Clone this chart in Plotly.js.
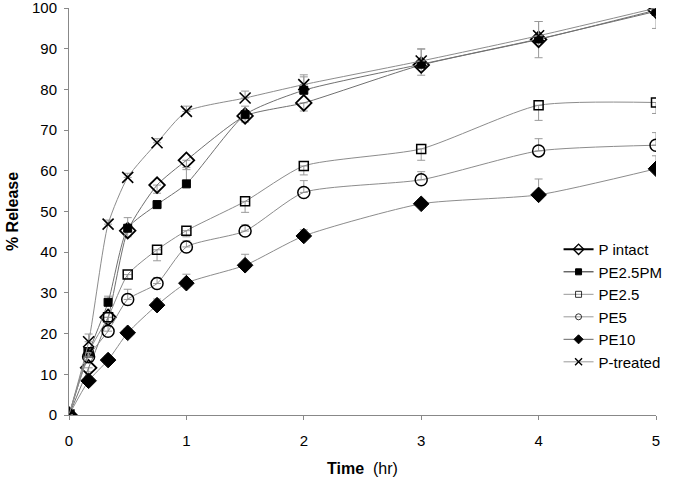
<!DOCTYPE html>
<html>
<head>
<meta charset="utf-8">
<script src="https://cdn.plot.ly/plotly-3.0.1.min.js"></script>
<style>html,body{margin:0;padding:0;background:#fff;}#chart{width:676px;height:482px;}</style>
</head>
<body>
<div id="chart"></div>
<script>
var time = [0, 0.167, 0.333, 0.5, 0.75, 1, 1.5, 2, 3, 4, 5];
var xTicks = [0, 1, 2, 3, 4, 5];
var yTicks = [0, 10, 20, 30, 40, 50, 60, 70, 80, 90, 100];

var pIntact   = [0, 11.6, 24.0, 45.3, 56.5, 62.6, 73.5, 76.7, 86.0, 92.3, 99.5];
var pe25pm    = [0, 15.3, 27.7, 45.9, 51.7, 56.8, 73.8, 79.8, 86.2, 92.4, 99.2];
var pe25      = [0, 15.4, 24.0, 34.5, 40.6, 45.3, 52.5, 61.2, 65.4, 76.1, 76.8];
var pe5       = [0, 14.3, 20.6, 28.4, 32.3, 41.3, 45.2, 54.7, 57.8, 64.9, 66.3];
var pe10      = [0, 8.4, 13.5, 20.2, 27.0, 32.4, 36.8, 44.0, 51.9, 54.1, 60.5];
var pTreated  = [0, 18.0, 46.9, 58.4, 66.9, 74.6, 77.9, 81.2, 87.0, 93.2, 100.0];

var errPIntact  = [0, 1.0, 1.2, 1.5, 2.0, 2.3, 1.5, 2.0, 2.5, 4.5, 4.5];
var errPE25PM   = [0, 1.0, 1.5, 2.6, 1.0, 4.0, 2.1, 3.3, 3.7, 4.3, 1.0];
var errPE25     = [0, 1.0, 1.2, 1.0, 2.7, 1.5, 2.7, 2.2, 2.8, 3.7, 2.7];
var errPE5      = [0, 1.0, 1.2, 2.5, 1.5, 1.5, 1.5, 2.9, 2.0, 3.0, 3.1];
var errPE10     = [0, 1.0, 1.0, 1.0, 1.5, 2.2, 2.7, 1.5, 1.0, 3.9, 3.2];
var errPTreated = [0, 1.9, 1.0, 1.0, 1.0, 1.3, 1.7, 2.4, 3.0, 3.5, 1.0];

var lineCol = '#8c8c8c';
var errCol = '#9a9a9a';

function mk(name, y, err, dir, marker, lcol) {
  var e = {type: 'data', visible: true, color: errCol, thickness: 1, width: 4, symmetric: false};
  var zeros = err.map(function(){return 0;});
  if (dir === 'up') { e.array = err; e.arrayminus = zeros; }
  else { e.array = zeros; e.arrayminus = err; }
  return {
    x: time, y: y, name: name, type: 'scatter', mode: 'lines+markers', showlegend: false,
    line: {color: lcol || lineCol, width: 1, shape: 'spline', smoothing: 0.6},
    marker: marker, error_y: e
  };
}

function leg(name, symbol, size, lcol, lw, mlw) {
  return {
    x: [null], y: [null], name: name, type: 'scatter', mode: 'lines+markers', showlegend: true,
    line: {color: lcol, width: lw},
    marker: {symbol: symbol, size: size, color: '#000', line: {color: '#000', width: mlw}}
  };
}

var traces = [
  mk('P intact', pIntact, errPIntact, 'down', {symbol: 'diamond-open', size: 12, color: '#000', line: {color: '#000', width: 1.8}}, '#707070'),
  mk('PE2.5PM', pe25pm, errPE25PM, 'up', {symbol: 'square', size: 8, color: '#000', line: {color: '#000', width: 1}}, '#707070'),
  mk('PE2.5', pe25, errPE25, 'down', {symbol: 'square-open', size: 9, color: '#000', line: {color: '#000', width: 1.5}}),
  mk('PE5', pe5, errPE5, 'up', {symbol: 'circle-open', size: 12, color: '#000', line: {color: '#000', width: 1.5}}),
  mk('PE10', pe10, errPE10, 'up', {symbol: 'diamond', size: 12, color: '#000', line: {color: '#000', width: 1}}),
  mk('P-treated', pTreated, errPTreated, 'up', {symbol: 'x-thin-open', size: 11, color: '#000', line: {color: '#000', width: 1.6}}),
  leg('P intact', 'diamond-open', 8, '#000', 2, 1.4),
  leg('PE2.5PM', 'square', 6, '#222', 1, 1),
  leg('PE2.5', 'square-open', 6, '#999', 1, 0.8),
  leg('PE5', 'circle-open', 6, '#999', 1, 0.8),
  leg('PE10', 'diamond', 7, '#666', 1, 1),
  leg('P-treated', 'x-thin-open', 7, '#999', 1, 1.4)
];

var layout = {
  width: 676, height: 482,
  margin: {l: 69, r: 20, t: 8, b: 67},
  paper_bgcolor: '#fff', plot_bgcolor: '#fff',
  font: {family: 'Liberation Sans, Arial, sans-serif', size: 15, color: '#000'},
  showlegend: true,
  legend: {x: 0.834, y: 0.447, xanchor: 'left', yanchor: 'top', bgcolor: 'rgba(0,0,0,0)', font: {size: 15}, tracegroupgap: 0},
  xaxis: {
    range: [0, 5], tickvals: xTicks, ticks: 'outside', ticklen: 4, tickcolor: '#888',
    showline: true, linecolor: '#888', linewidth: 1, showgrid: false, zeroline: false,
    ticklabelstandoff: 8,
    title: {text: '<b>Time</b>&nbsp; (hr)', font: {size: 16}, standoff: 14}
  },
  yaxis: {
    range: [0, 100.02], tickvals: yTicks, ticks: 'outside', ticklen: 4, tickcolor: '#888',
    showline: true, linecolor: '#888', linewidth: 1, showgrid: false, zeroline: false,
    ticklabelstandoff: 4, ticklabeloverflow: 'allow',
    title: {text: '<b>% Release</b>', font: {size: 16}, standoff: 9}
  }
};

Plotly.newPlot('chart', traces, layout, {displayModeBar: false, staticPlot: true});
</script>
</body>
</html>
